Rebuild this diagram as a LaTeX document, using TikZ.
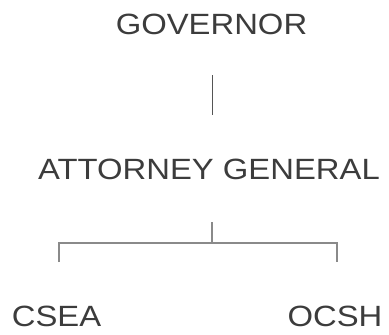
\documentclass[tikz,border=0pt]{standalone}
\usepackage{fontspec}
\setmainfont{Liberation Sans}
\definecolor{txt}{HTML}{3C3C3C}
\definecolor{ln}{HTML}{8A8A8A}
\definecolor{lndark}{HTML}{555555}
\tikzset{
  lbl/.style={anchor=base, inner sep=0pt, text=txt, font=\fontsize{29.3}{32}\selectfont},
  conn/.style={draw=ln, line width=1.2pt}
}
\newcommand{\wide}[1]{\scalebox{1.12}[1]{#1}}
\begin{document}
\begin{tikzpicture}[x=1pt,y=1pt]
\useasboundingbox (0,0) rectangle (389,-335);
\node[lbl] (gov) at (211.5,-34) {\wide{GOVERNOR}};
\node[lbl] (ag) at (209,-179) {\wide{ATTORNEY GENERAL}};
\node[lbl] (csea) at (56.5,-326.7) {\wide{CSEA}};
\node[lbl] (ocsh) at (335,-326.7) {\wide{OCSH}};
\coordinate (g1) at (212.5,-75);
\coordinate (g2) at (212.5,-115);
\coordinate (a1) at (212,-222);
\coordinate (a2) at (212,-243);
\coordinate (l1) at (59,-243);
\coordinate (l2) at (59,-262);
\coordinate (r1) at (337,-243);
\coordinate (r2) at (337,-262);
\draw[conn, draw=lndark] (g1) -- (g2);
\draw[conn] (a1) -- (a2);
\draw[conn] (l2) -- (l1) -- (r1) -- (r2);
\end{tikzpicture}
\end{document}
